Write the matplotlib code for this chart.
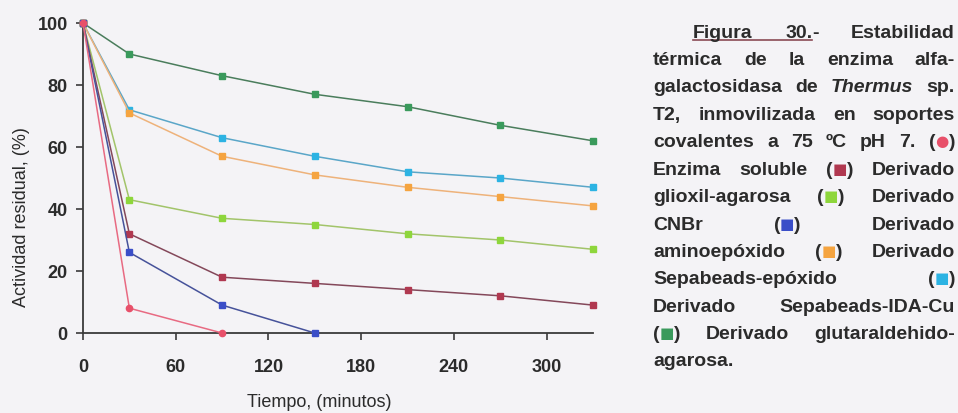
import matplotlib.pyplot as plt
from matplotlib.lines import Line2D

# Tiempo de incubación (min) y actividad residual (%) de cada derivado
tiempo = [0, 30, 90, 150, 210, 270, 330]
soluble = [100, 8, 0]
glioxil = [100, 32, 18, 16, 14, 12, 9]
cnbr = [100, 26, 9, 0]
aminoepoxido = [100, 71, 57, 51, 47, 44, 41]
sepabeads_epoxido = [100, 72, 63, 57, 52, 50, 47]
sepabeads_ida_cu = [100, 43, 37, 35, 32, 30, 27]
glutaraldehido = [100, 90, 83, 77, 73, 67, 62]

x_ticks = [0, 60, 120, 180, 240, 300]
y_ticks = [0, 20, 40, 60, 80, 100]

BG = '#f4f3f6'
INK = '#2b2b2b'
FONT = ['Liberation Sans', 'DejaVu Sans']

# (valores, marcador, color del marcador, color de la línea)
series = [
    (glutaraldehido, 's', '#3a9a5c', '#4a7d5c'),
    (sepabeads_epoxido, 's', '#2cb3e3', '#5aa6c8'),
    (aminoepoxido, 's', '#f5a440', '#eeb27a'),
    (sepabeads_ida_cu, 's', '#8ed63c', '#a2c46a'),
    (glioxil, 's', '#b03850', '#84485a'),
    (cnbr, 's', '#3a4ec8', '#46529a'),
    (soluble, 'o', '#e8506a', '#e86a82'),
]

fig = plt.figure(figsize=(9.58, 4.14), dpi=100, facecolor=BG)
ax = fig.add_axes([83 / 958, 1 - 334 / 414, 510 / 958, 310 / 414])
ax.set_facecolor(BG)

for vals, mk, mc, lc in series:
    ax.plot(tiempo[:len(vals)], vals, color=lc, lw=1.1, marker=mk,
            markersize=4.5, markerfacecolor=mc, markeredgecolor=mc,
            clip_on=False, zorder=3)

ax.set_xlim(0, 330)
ax.set_ylim(0, 100)
ax.set_xticks(x_ticks)
ax.set_yticks(y_ticks)
for s in ['top', 'right']:
    ax.spines[s].set_visible(False)
for s in ['left', 'bottom']:
    ax.spines[s].set_color('#3a3a3a')
    ax.spines[s].set_linewidth(1.3)
ax.tick_params(axis='both', direction='out', length=5, width=1.2,
               color='#3a3a3a', labelcolor=INK, labelsize=13)
ax.tick_params(axis='x', pad=13)
ax.tick_params(axis='y', pad=6)
for lab in ax.get_xticklabels() + ax.get_yticklabels():
    lab.set_fontweight('bold')
    lab.set_family(FONT)

fig.text(22 / 958, 1 - 217 / 414, 'Actividad residual, (%)', rotation=90,
         ha='center', va='center', fontsize=13, color=INK, family=FONT)
fig.text(319 / 958, 1 - 403 / 414, 'Tiempo, (minutos)', ha='center',
         va='center', fontsize=13, color=INK, family=FONT)

# Pie de figura justificado, palabra a palabra
caption = [
    ['Figura', '30.-', 'Estabilidad'],
    ['térmica', 'de', 'la', 'enzima', 'alfa-'],
    ['galactosidasa', 'de', '*Thermus', 'sp.'],
    ['T2,', 'inmovilizada', 'en', 'soportes'],
    ['covalentes', 'a', '75', 'ºC', 'pH', '7.', '(●)'],
    ['Enzima', 'soluble', '(■)', 'Derivado'],
    ['glioxil-agarosa', '(■)', 'Derivado'],
    ['CNBr', '(■)', 'Derivado'],
    ['aminoepóxido', '(■)', 'Derivado'],
    ['Sepabeads-epóxido', '(■)'],
    ['Derivado', 'Sepabeads-IDA-Cu'],
    ['(■)', 'Derivado', 'glutaraldehido-'],
    ['agarosa.'],
]
sym_colors = ['#e8506a', '#b03850', '#8ed63c', '#3a4ec8', '#f5a440',
              '#2cb3e3', '#3a9a5c']

fig.canvas.draw()
rend = fig.canvas.get_renderer()
W, H = fig.bbox.width, fig.bbox.height
left_px, right_px = 653, 955


def make_piece(s, color, style='normal', family=FONT, size=14, dy=0):
    t = fig.text(0, 0, s, color=color, style=style, fontsize=size,
                 fontweight='bold', family=family, ha='left', va='baseline')
    return t, t.get_window_extent(rend).width, dy


sym_i = 0
underline = None
for i, words in enumerate(caption):
    base = 37.7 + 27.4 * i
    tokens = []
    for w in words:
        if w in ('(●)', '(■)'):
            c = sym_colors[sym_i]
            sym_i += 1
            pieces = [make_piece('(', INK),
                      make_piece(w[1], c, family=['DejaVu Sans'], size=11,
                                 dy=-1),
                      make_piece(')', INK)]
        elif w.startswith('*'):
            pieces = [make_piece(w[1:], INK, 'italic')]
        elif w.endswith('.-'):
            pieces = [make_piece(w[:-1], INK), make_piece('-', INK)]
        else:
            pieces = [make_piece(w, INK)]
        tokens.append(pieces)
    widths = [sum(p[1] for p in tk) for tk in tokens]
    start = 693 if i == 0 else left_px
    if i == len(caption) - 1 or len(tokens) == 1:
        gap = 6
    else:
        gap = (right_px - start - sum(widths)) / (len(tokens) - 1)
    x = start
    for tk, tw in zip(tokens, widths):
        px = x
        for t, pw, dy in tk:
            t.set_position((px / W, 1 - (base + dy) / H))
            px += pw
        x += tw + gap
    if i == 0:
        end = start + widths[0] + gap + tokens[1][0][1]
        underline = (start, end, base + 3)

x0, x1, yu = underline
fig.add_artist(Line2D([x0 / W, x1 / W], [1 - yu / H, 1 - yu / H],
                      color='#8a4a55', lw=1.2))

fig.savefig('out.png', dpi=100, facecolor=BG)
